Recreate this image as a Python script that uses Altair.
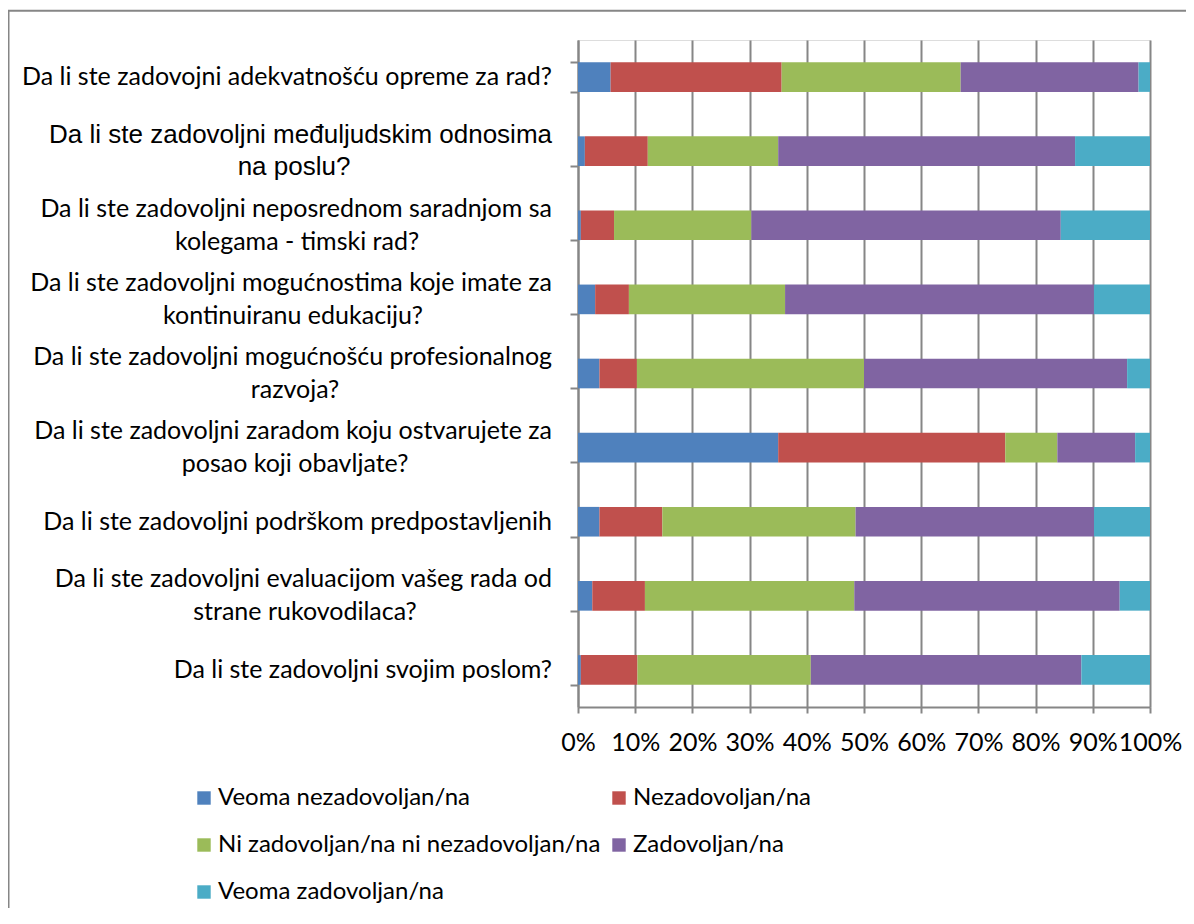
import altair as alt
import pandas as pd

# ---------------- data ----------------
questions = [
    "Da li ste zadovojni adekvatnošću opreme za rad?",
    "Da li ste zadovoljni međuljudskim odnosima na poslu?",
    "Da li ste zadovoljni neposrednom saradnjom sa kolegama - timski rad?",
    "Da li ste zadovoljni mogućnostima koje imate za kontinuiranu edukaciju?",
    "Da li ste zadovoljni mogućnošću profesionalnog razvoja?",
    "Da li ste zadovoljni zaradom koju ostvarujete za posao koji obavljate?",
    "Da li ste zadovoljni podrškom predpostavljenih",
    "Da li ste zadovoljni evaluacijom vašeg rada od strane rukovodilaca?",
    "Da li ste zadovoljni svojim poslom?",
]
label_lines = [
    ["Da li ste zadovojni adekvatnošću opreme za rad?"],
    ["Da li ste zadovoljni međuljudskim odnosima", "na poslu?"],
    ["Da li ste zadovoljni neposrednom saradnjom sa", "kolegama - timski rad?"],
    ["Da li ste zadovoljni mogućnostima koje imate za", "kontinuiranu edukaciju?"],
    ["Da li ste zadovoljni mogućnošću profesionalnog", "razvoja?"],
    ["Da li ste zadovoljni zaradom koju ostvarujete za", "posao koji obavljate?"],
    ["Da li ste zadovoljni podrškom predpostavljenih"],
    ["Da li ste zadovoljni evaluacijom vašeg rada od", "strane rukovodilaca?"],
    ["Da li ste zadovoljni svojim poslom?"],
]
series = [
    "Veoma nezadovoljan/na",
    "Nezadovoljan/na",
    "Ni zadovoljan/na ni nezadovoljan/na",
    "Zadovoljan/na",
    "Veoma zadovoljan/na",
]
veoma_nezadovoljan = [5.7, 1.2, 0.5, 3.0, 3.75, 35.0, 3.75, 2.5, 0.5]
nezadovoljan = [29.9, 11.0, 5.8, 5.9, 6.55, 39.7, 11.0, 9.2, 9.9]
ni_ni = [31.3, 22.8, 24.0, 27.3, 39.7, 9.1, 33.8, 36.6, 30.3]
zadovoljan = [31.1, 51.9, 54.1, 54.0, 46.0, 13.6, 41.7, 46.4, 47.3]
veoma_zadovoljan = [2.0, 13.1, 15.6, 9.8, 4.0, 2.6, 9.8, 5.3, 12.0]
x_ticks = [0, 0.1, 0.2, 0.3, 0.4, 0.5, 0.6, 0.7, 0.8, 0.9, 1.0]

# ---------------- style ----------------
colors = ["#4F81BD", "#C0504D", "#9BBB59", "#8064A2", "#4BACC6"]
GRAY = "#868686"
FONT = "Lato"
FS = 25
ARIAL_LABELS = {1}
LINE2_CENTER = {1: -284, 2: -281, 3: -285, 4: -283, 5: -283, 7: -273}
LABEL_RIGHT = -26
HALF_LINE = 16.5
W, H = 572, 667

values_by_series = [veoma_nezadovoljan, nezadovoljan, ni_ni, zadovoljan, veoma_zadovoljan]
rows = []
for k, (s, vals) in enumerate(zip(series, values_by_series)):
    for q, v in zip(questions, vals):
        rows.append({"q": q, "s": s, "v": v, "k": k})
df = pd.DataFrame(rows)

yscale = alt.Scale(domain=questions, paddingInner=0.6, paddingOuter=0.3)

bars = alt.Chart(df).mark_bar().encode(
    y=alt.Y(
        "q:N",
        scale=yscale,
        axis=alt.Axis(
            labels=False, title=None, tickBand="extent", tickSize=8,
            domainColor=GRAY, tickColor=GRAY, domainWidth=2, tickWidth=2,
            grid=False,
        ),
    ),
    x=alt.X(
        "v:Q",
        stack="normalize",
        scale=alt.Scale(domain=[0, 1]),
        axis=alt.Axis(
            values=x_ticks, format=".0%", title=None, labelOverlap=False,
            labelFont=FONT, labelFontSize=FS, labelColor="black",
            labelPadding=17, tickSize=6, tickColor=GRAY, tickWidth=2,
            domainColor=GRAY, domainWidth=2, gridColor=GRAY, gridWidth=2,
            grid=True, labelFlush=False,
        ),
    ),
    color=alt.Color(
        "s:N",
        scale=alt.Scale(domain=series, range=colors),
        legend=alt.Legend(
            title=None, orient="none", legendX=-386, legendY=746,
            columns=2, direction="horizontal", symbolType="square",
            symbolSize=180, symbolStrokeWidth=0, labelFont=FONT,
            labelFontSize=24, labelColor="black", labelLimit=600,
            labelOffset=2, rowPadding=23, columnPadding=6, padding=0,
        ),
    ),
    order=alt.Order("k:Q"),
)

border = alt.Chart(pd.DataFrame({"d": [0]})).mark_rect(
    fillOpacity=0, stroke=GRAY, strokeWidth=2
).encode(
    x=alt.value(-569.5), x2=alt.value(W + 200),
    y=alt.value(-29.2), y2=alt.value(H + 400),
)

layers = [border, bars]
for i, (q, lines) in enumerate(zip(questions, label_lines)):
    font = "Liberation Sans" if i in ARIAL_LABELS else FONT
    fs = 26 if i in ARIAL_LABELS else FS
    d = pd.DataFrame({"q": [q]})
    if len(lines) == 1:
        layers.append(
            alt.Chart(d).mark_text(align="right", baseline="middle", font=font,
                                   fontSize=fs, color="black", text=lines[0])
            .encode(y=alt.Y("q:N", scale=yscale), x=alt.value(LABEL_RIGHT))
        )
    else:
        half = 16 if i in ARIAL_LABELS else HALF_LINE
        layers.append(
            alt.Chart(d).mark_text(align="right", baseline="middle", font=font,
                                   fontSize=fs, color="black", dy=-half, text=lines[0])
            .encode(y=alt.Y("q:N", scale=yscale), x=alt.value(LABEL_RIGHT))
        )
        layers.append(
            alt.Chart(d).mark_text(align="center", baseline="middle", font=font,
                                   fontSize=fs, color="black", dy=half, text=lines[1])
            .encode(y=alt.Y("q:N", scale=yscale), x=alt.value(LINE2_CENTER[i]))
        )

chart = alt.layer(*layers).properties(
    width=W, height=H,
    autosize=alt.AutoSizeParams(type="none"),
    padding={"left": 570, "top": 32, "right": 36, "bottom": 201},
).configure_view(stroke=None).configure(background="white")

chart.save("out.html", embed_options={"renderer": "svg", "actions": False})
